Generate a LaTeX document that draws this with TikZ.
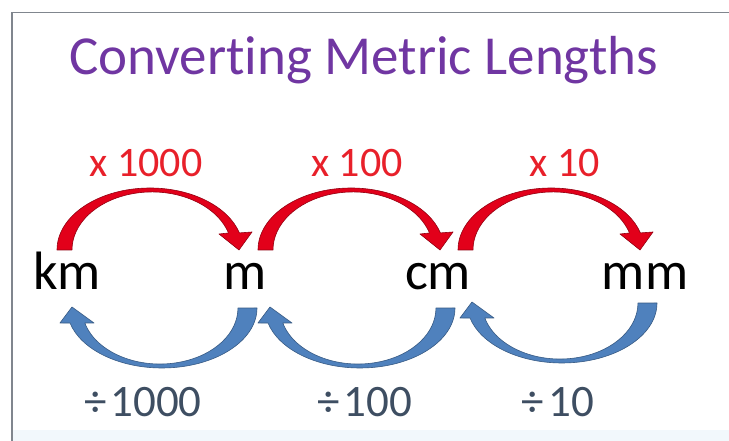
\documentclass[tikz,border=0pt]{standalone}
\usepackage{fontspec}
\setmainfont{Carlito}[Ligatures=NoCommon]
\definecolor{titlepurple}{HTML}{7036A2}
\definecolor{labelred}{HTML}{E8202A}
\definecolor{labelslate}{HTML}{3E4E62}
\definecolor{arrowred}{HTML}{E2001A}
\definecolor{arrowblue}{HTML}{4F81BD}
\definecolor{framegray}{HTML}{80868E}
\definecolor{bandblue}{HTML}{F2F8FC}
\begin{document}
\begin{tikzpicture}[x=1pt,y=1pt,
  redshape/.style={fill=arrowred, draw=arrowred!65!black, line width=0.6pt, line join=round},
  blueshape/.style={fill=arrowblue, draw=arrowblue!70!black, line width=0.6pt, line join=round},
  titletext/.style={anchor=base, inner sep=0pt, text=titlepurple, font=\fontsize{55}{60}\selectfont},
  multext/.style={anchor=base, inner sep=0pt, text=labelred, font=\fontsize{42}{48}\selectfont},
  unittext/.style={anchor=base, inner sep=0pt, text=black, font=\fontsize{54}{60}\selectfont},
  divtext/.style={anchor=base, inner sep=0pt, text=labelslate, font=\fontsize{45}{50}\selectfont},
  redarr/.pic={
    \path[redshape] (57,191) arc[start angle=180, end angle=16, x radius=93, y radius=62]
      -- (252,209) -- (239,191) -- (219,207) -- (228.5,208)
      arc[start angle=17, end angle=180, x radius=80, y radius=58] -- cycle;
  },
  bluearr/.pic={
    \path[blueshape] (257,133) arc[start angle=0, end angle=-165.5, x radius=95, y radius=60]
      -- (60,118) -- (72,134) -- (94,118) -- (84.8,118)
      arc[start angle=-164.5, end angle=0, x radius=78, y radius=56] -- cycle;
  }]
\useasboundingbox (0,0) rectangle (729,441);
\fill[white] (0,0) rectangle (729,441);
\fill[bandblue] (12,0) rectangle (729,11);
\draw[framegray, line width=1.6pt] (729,428.5) -- (12,428.5) -- (12,0);

\node[titletext] (title) at (363.5,366) {Converting Metric Lengths};

\node[multext] (m1) at (146,264) {x 1000};
\node[multext] (m2) at (357,264) {x 100};
\node[multext] (m3) at (565,264) {x 10};

\node[unittext] (km) at (67,151) {km};
\node[unittext] (m) at (245,151) {m};
\node[unittext] (cm) at (438,151) {cm};
\node[unittext] (mm) at (645,151) {mm};

\node[divtext] (d1) at (143,24) {÷\hspace{4pt}1000};
\node[divtext] (d2) at (365,24) {÷\hspace{4pt}100};
\node[divtext] (d3) at (558,24) {÷\hspace{4pt}10};

\pic at (0,0) {redarr};
\pic at (201,0) {redarr};
\pic at (401,0) {redarr};

\pic at (0,0) {bluearr};
\pic at (198,0) {bluearr};
\pic at (400,5) {bluearr};
\end{tikzpicture}
\end{document}
